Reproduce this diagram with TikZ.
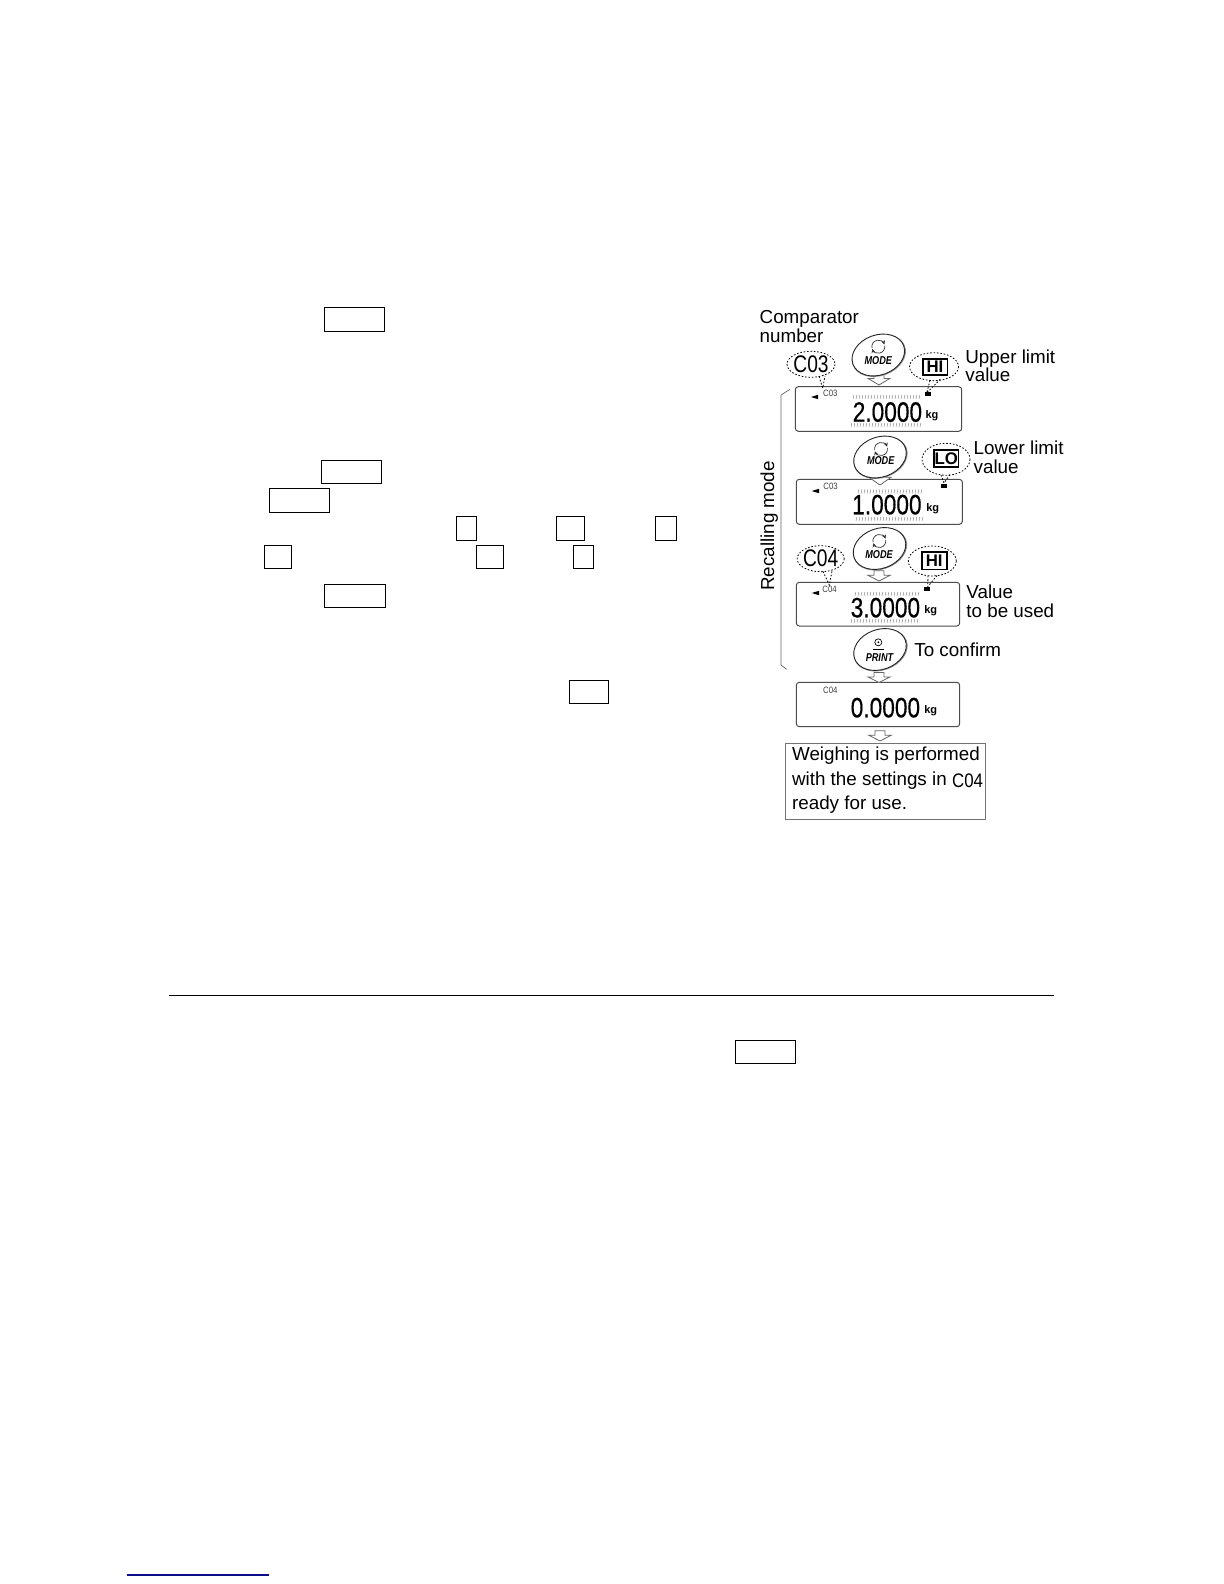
\documentclass[tikz,border=0pt]{standalone}
\usepackage{fontspec}
\usepackage{graphicx}
\setmainfont{Liberation Sans}
\newfontfamily\lcdfont[FakeBold=0.5]{Liberation Sans}
\usetikzlibrary{arrows.meta}
\definecolor{boxgray}{gray}{0.45}
\definecolor{linknavy}{rgb}{0.05,0.05,0.55}
\newcommand{\lblfont}{\fontsize{9.4}{11}\selectfont}
\tikzset{
  keybox/.style={draw=black,line width=.5pt},
  panel/.style={draw=black!70,line width=.5pt,rounded corners=1.5pt},
  lbl/.style={anchor=base west,inner sep=0pt,font=\lblfont},
  lcdtext/.style={anchor=base east,inner sep=0pt,text=black,font=\lcdfont},
  smallc/.style={anchor=base west,inner sep=0pt,text=black!75},
  kgtext/.style={anchor=center,inner sep=0pt,font=\bfseries\fontsize{5.5}{6}\selectfont},
  ticks/.style={draw=black!45,line width=.25pt},
  oval/.style={draw=black!85,line width=.45pt,fill=white},
  ovalshade/.style={draw=black!45,line width=.8pt,fill=white},
  bubble/.style={draw=black,line width=.4pt,dash pattern=on .8pt off .9pt},
  tagbox/.style={draw=black,line width=.8pt,fill=white,inner sep=0pt,font=\bfseries\fontsize{8.4}{9}\selectfont},
  keyname/.style={inner sep=0pt,font=\bfseries\itshape\fontsize{5.7}{6}\selectfont},
  harrow/.style={draw=black!60,line width=.4pt,fill=white},
  marker/.style={fill=black,draw=none},
}
% hollow down arrow: centre x, top y, bottom y
\newcommand{\hollowarrow}[3]{\draw[harrow] (#1-5,#2) -- (#1+5,#2) -- (#1+5,#2+.45*#3-.45*#2) -- (#1+11,#2+.45*#3-.45*#2) -- (#1,#3) -- (#1-11,#2+.45*#3-.45*#2) -- (#1-5,#2+.45*#3-.45*#2) -- cycle;}
% tick row: x from, x to, y top, y bottom
\newcommand{\tickrow}[4]{\pgfmathtruncatemacro{\tnext}{#1+3}\foreach \tx in {#1,\tnext,...,#2}{\draw[ticks] (\tx+.8,#3) -- (\tx,#4);}}
% main key with egg-shaped double ring
\newcommand{\keyoval}[2]{%
  \draw[ovalshade,rotate around={20:(#1+.6,#2+.6)}] (#1+.6,#2+.6) ellipse (27 and 19.5);
  \draw[oval,rotate around={20:(#1,#2)}] (#1,#2) ellipse (27 and 20);}
% cycle symbol
\newcommand{\cyclesym}[2]{%
  \draw[black!80,line width=.35pt,-{Stealth[length=2pt,width=2pt]}] (#1,#2) ++(170:6.5) arc[start angle=170,end angle=340,radius=6.5];
  \draw[black!80,line width=.35pt,-{Stealth[length=2pt,width=2pt]}] (#1,#2) ++(-10:6.5) arc[start angle=-10,end angle=160,radius=6.5];}
\begin{document}
\begin{tikzpicture}[x=0.5pt,y=-0.5pt]
\useasboundingbox (0,0) rectangle (1224,1584);
\fill[white] (0,0) rectangle (1224,1584);

% empty key boxes of the text column
\draw[keybox] (324.3,307.3) rectangle (384.7,331.3);
\draw[keybox] (321.3,460.3) rectangle (381.7,483.3);
\draw[keybox] (269.3,488.3) rectangle (329.7,512.3);
\draw[keybox] (456.3,516.3) rectangle (476.7,540.3);
\draw[keybox] (556.3,516.3) rectangle (584.7,540.3);
\draw[keybox] (655.3,516.3) rectangle (676.7,540.3);
\draw[keybox] (264.3,545.3) rectangle (291.7,568.3);
\draw[keybox] (476.3,545.3) rectangle (503.7,568.3);
\draw[keybox] (573.3,545.3) rectangle (593.7,568.3);
\draw[keybox] (324.3,584.3) rectangle (385.7,607.3);
\draw[keybox] (569.3,680.3) rectangle (608.7,703.3);
\draw[keybox] (735,1040) rectangle (795,1063);
% rules
\draw[black,line width=.5pt] (169,995.5) -- (1054,995.5);
\draw[linknavy,line width=.55pt] (127,1575) -- (269,1575);

% labels
\node[lbl] (tcomp) at (759.3,323.3) {Comparator};
\node[lbl] (tnum) at (759.3,342.7) {number};
\node[lbl] (tup) at (965,363.3) {Upper limit};
\node[lbl] (tupv) at (965,381.7) {value};
\node[lbl] (tlow) at (973.3,454) {Lower limit};
\node[lbl] (tlowv) at (973.3,473.3) {value};
\node[lbl] (tval) at (966,598.3) {Value};
\node[lbl] (tuse) at (966,617.3) {to be used};
\node[lbl] (tconf) at (914,656.7) {To confirm};
\node[inner sep=0pt,anchor=base,rotate=90,font=\lblfont] (trec) at (774,526) {Recalling mode};

% brace of the recalling mode
\draw[black!60,line width=.35pt] (790,389.3) -- (781,395) -- (781,665) -- (786.7,669.3);

% displays
\draw[panel] (795.3,386.7) rectangle (961.7,431.3);
\draw[panel] (796.3,479.3) rectangle (962.3,524.3);
\draw[panel] (796.3,582.3) rectangle (959.7,626);
\draw[panel] (796.3,682.3) rectangle (959.7,726.7);

% readouts
\node[lcdtext] (r1) at (922.5,421.7) {\fontsize{14}{14}\selectfont\scalebox{.81}[1]{2.0000}};
\node[lcdtext] (r2) at (922,514.3) {\fontsize{14}{14}\selectfont\scalebox{.81}[1]{1.0000}};
\node[lcdtext] (r3) at (920.5,617.3) {\fontsize{14}{14}\selectfont\scalebox{.81}[1]{3.0000}};
\node[lcdtext] (r4) at (920.5,717.3) {\fontsize{14}{14}\selectfont\scalebox{.81}[1]{0.0000}};

\node[kgtext] (kg1) at (932,416) {kg};
\node[kgtext] (kg2) at (932.7,508.5) {kg};
\node[kgtext] (kg3) at (930.7,611) {kg};
\node[kgtext] (kg4) at (930.7,711) {kg};

\node[smallc] (c1) at (822.7,396.7) {\fontsize{4.6}{5}\selectfont\scalebox{.85}[1]{C03}};
\node[smallc] (c2) at (823,489.3) {\fontsize{4.6}{5}\selectfont\scalebox{.85}[1]{C03}};
\node[smallc] (c3) at (822,592) {\fontsize{4.6}{5}\selectfont\scalebox{.85}[1]{C04}};
\node[smallc] (c4) at (822.7,693) {\fontsize{4.6}{5}\selectfont\scalebox{.85}[1]{C04}};

% bar-graph ticks
\tickrow{853}{921}{395}{399}
\tickrow{851}{921}{423}{427}
\tickrow{858}{922}{489.5}{493.5}
\tickrow{856}{923}{517}{521}
\tickrow{855}{920}{592}{596}
\tickrow{851}{918}{619}{623}

% stability pointers and limit marks
\fill[marker] (811,397) -- (818,394.8) -- (818,399.2) -- cycle;
\fill[marker] (811.7,491) -- (819,488.8) -- (819,493.2) -- cycle;
\fill[marker] (811.7,593) -- (819,590.8) -- (819,595.2) -- cycle;
\fill[marker] (925.3,392) rectangle (931.3,396);
\fill[marker] (941,483.5) rectangle (947,488);
\fill[marker] (923.7,586.5) rectangle (929.7,591);

% hollow arrows
\hollowarrow{879}{373}{385}
\hollowarrow{880}{471}{485}
\hollowarrow{879}{570.7}{581}
\hollowarrow{879}{672.5}{682.5}
\hollowarrow{880}{730.7}{741}

% keys
\keyoval{878.3}{355}
\cyclesym{878.3}{346.7}
\node[keyname] (m1) at (878.3,360.7) {\scalebox{.8}[1]{MODE}};
\keyoval{880}{457}
\cyclesym{881}{449}
\node[keyname] (m2) at (880.7,461) {\scalebox{.8}[1]{MODE}};
\keyoval{879.5}{548.5}
\cyclesym{879.3}{541}
\node[keyname] (m3) at (879,555) {\scalebox{.8}[1]{MODE}};
\keyoval{880}{649.5}
\draw[black,line width=.35pt] (878.3,642.3) circle (3.5);
\fill[black] (878.3,642.3) circle (1);
\draw[black,line width=.45pt] (873,649.3) -- (884,649.3);
\node[keyname] (m4) at (879.5,657.3) {\scalebox{.8}[1]{PRINT}};

% dotted call-outs
\coordinate (tipa) at (822.7,388);
\coordinate (tipb) at (926.7,393);
\coordinate (tipc) at (944,483);
\coordinate (tipd) at (829.3,585);
\coordinate (tipe) at (927.7,586.7);

\draw[bubble] (811,364.3) ellipse (24 and 13);
\draw[bubble] (819,376.5) -- (tipa) -- (825,376);
\node[inner sep=0pt] (bc1) at (811,364.3) {\fontsize{12}{12}\selectfont\scalebox{.8}[1]{C03}};

\draw[bubble] (934,366.7) ellipse (24.5 and 14);
\draw[bubble] (930,380.5) -- (tipb) -- (940,379.5);
\node[tagbox,minimum width=12.3pt,minimum height=8pt] (hi1) at (935,367) {HI};

\draw[bubble] (946,459.3) ellipse (24 and 16);
\draw[bubble] (941,475) -- (tipc) -- (950,474.3);
\node[tagbox,minimum width=12.2pt,minimum height=8.4pt] (lo) at (946.2,458.4) {LO};

\draw[bubble] (820.7,558.7) ellipse (23.5 and 13);
\draw[bubble] (823,571.5) -- (tipd) -- (832,571);
\node[inner sep=0pt] (bc2) at (820.7,558.7) {\fontsize{12}{12}\selectfont\scalebox{.8}[1]{C04}};

\draw[bubble] (932.3,561) ellipse (24 and 15);
\draw[bubble] (928,575.8) -- (tipe) -- (938,574.5);
\node[tagbox,minimum width=12.5pt,minimum height=8.8pt] (hi2) at (934.2,560.5) {HI};

% result box
\draw[draw=boxgray,line width=.5pt] (785.3,743.3) rectangle (985.7,819.3);
\node[lbl] (w1) at (791.7,760.7) {Weighing is performed};
\node[lbl] (w2) at (791.7,785) {with the settings in};
\node[lbl] (w3) at (791.7,809.3) {ready for use.};
\node[anchor=base west,inner sep=0pt] (w4) at (951.7,787) {\fontsize{9.8}{10}\selectfont\scalebox{.86}[1]{C04}};
\end{tikzpicture}
\end{document}
